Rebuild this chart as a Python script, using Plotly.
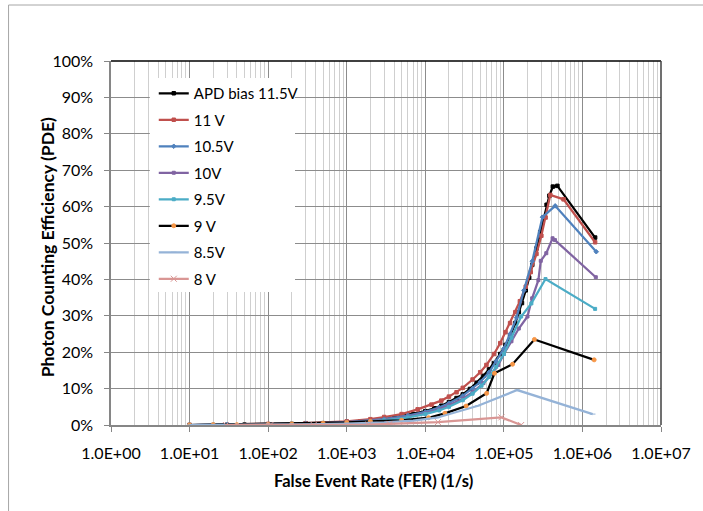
import plotly.graph_objects as go

# False event rate (1/s) and photon counting efficiency (%) per APD bias
fer_115 = [10, 20, 30, 50, 100, 200, 300, 500, 1000, 1500, 2000, 3000, 4000, 5000, 7000,
           10000, 13000, 16000, 20000, 25000, 30000, 37000, 45000, 55000, 65000, 75000,
           90000, 105000, 120000, 140000, 155000, 170000, 190000, 210000, 230000, 260000,
           290000, 320000, 350000, 380000, 420000, 480000, 1450000]
pde_115 = [0, 0, 0, 0.1, 0.2, 0.3, 0.4, 0.5, 0.8, 1.0, 1.2, 1.6, 2.0, 2.4, 3.0,
           3.8, 4.6, 5.3, 6.3, 7.4, 8.4, 9.9, 11.6, 13.5, 15.3, 17.0,
           19.5, 22.0, 24.5, 28.0, 31.0, 33.5, 37.0, 40.5, 44.0, 48.5,
           53.0, 57.0, 60.5, 63.0, 65.5, 65.7, 51.5]

fer_110 = [10, 30, 100, 300, 1000, 2000, 3000, 5000, 8000, 12000, 16000, 20000, 25000,
           30000, 40000, 50000, 60000, 75000, 90000, 105000, 120000, 140000, 160000,
           190000, 220000, 260000, 300000, 340000, 390000, 575000, 1450000]
pde_110 = [0, 0.1, 0.3, 0.5, 1.0, 1.6, 2.2, 3.0, 4.3, 5.6, 6.7, 7.8, 9.0,
           10.2, 12.5, 14.5, 16.5, 19.5, 22.5, 25.5, 28.0, 31.0, 34.0,
           38.0, 42.0, 47.0, 52.0, 57.0, 63.2, 62.0, 50.2]

fer_105 = [10, 30, 100, 300, 1000, 3000, 6000, 10000, 15000, 20000, 30000, 40000, 50000,
           65000, 80000, 100000, 120000, 145000, 180000, 230000, 310000, 450000, 1500000]
pde_105 = [0, 0.1, 0.2, 0.4, 0.8, 1.6, 2.6, 3.6, 4.8, 6.0, 8.0, 10.0, 11.8,
           14.5, 17.5, 21.0, 25.0, 29.5, 37.0, 45.0, 57.1, 60.2, 47.6]

fer_100 = [10, 30, 100, 300, 1000, 3000, 6000, 10000, 15000, 20000, 30000, 40000, 55000,
           70000, 85000, 100000, 125000, 155000, 200000, 229000, 275000, 295000, 347000,
           417000, 447000, 1480000]
pde_100 = [0, 0.1, 0.2, 0.3, 0.7, 1.4, 2.3, 3.2, 4.3, 5.4, 7.2, 9.0, 11.5,
           14.0, 16.5, 19.5, 23.0, 26.5, 29.8, 34.8, 39.8, 45.1, 47.2,
           51.3, 50.8, 40.6]

fer_95 = [10, 30, 100, 300, 1000, 3000, 6000, 10000, 15000, 20000, 30000, 40000, 52000,
          65000, 80000, 100000, 125000, 166000, 224000, 339000, 1450000]
pde_95 = [0, 0.1, 0.2, 0.3, 0.6, 1.3, 2.1, 3.0, 4.0, 5.0, 6.8, 8.6, 10.8,
          13.2, 16.0, 19.5, 24.0, 29.8, 33.4, 40.1, 31.9]

fer_90 = [10, 20, 40, 100, 200, 500, 1000, 2000, 5000, 11000, 17800, 33100, 60300,
          75900, 129000, 245000, 1410000]
pde_90 = [0, 0.1, 0.1, 0.2, 0.3, 0.5, 0.7, 1.0, 1.3, 2.0, 3.2, 5.2, 8.7,
          14.2, 16.7, 23.5, 17.9]

fer_85 = [10, 30, 100, 300, 1000, 3000, 7000, 14000, 47000, 148000, 1350000]
pde_85 = [0, 0, 0.1, 0.2, 0.4, 0.7, 1.2, 2.0, 5.3, 9.6, 3.0]

fer_80 = [29, 107, 380, 1900, 3500, 14500, 93000, 166000]
pde_80 = [0, 0, 0, 0.1, 0.3, 0.8, 2.1, 0]

series_names = ["APD bias 11.5V", "11 V", "10.5V", "10V", "9.5V", "9 V", "8.5V", "8 V"]
x_tick_vals = [1, 10, 100, 1000, 10000, 100000, 1000000, 10000000]
x_tick_text = ["1.0E+00", "1.0E+01", "1.0E+02", "1.0E+03", "1.0E+04", "1.0E+05", "1.0E+06", "1.0E+07"]
y_tick_vals = [0, 10, 20, 30, 40, 50, 60, 70, 80, 90, 100]
y_tick_text = ["0%", "10%", "20%", "30%", "40%", "50%", "60%", "70%", "80%", "90%", "100%"]
x_title = "False Event Rate (FER) (1/s)"
y_title = "Photon Counting Efficiency (PDE)"

styles = [
    dict(line="#000000", marker="#000000", symbol="square", size=3.5),
    dict(line="#C0504D", marker="#C0504D", symbol="square", size=3.5),
    dict(line="#4F81BD", marker="#4F81BD", symbol="diamond", size=3.5),
    dict(line="#8064A2", marker="#8064A2", symbol="square", size=3),
    dict(line="#4BACC6", marker="#4BACC6", symbol="square", size=3),
    dict(line="#000000", marker="#F79646", symbol="circle", size=4),
    dict(line="#95B3D7", marker="#95B3D7", symbol="line-ew", size=4),
    dict(line="#D99694", marker="#D99694", symbol="x-thin", size=6),
]

data = [(fer_115, pde_115), (fer_110, pde_110), (fer_105, pde_105), (fer_100, pde_100),
        (fer_95, pde_95), (fer_90, pde_90), (fer_85, pde_85), (fer_80, pde_80)]

FONT = "Lato, 'Open Sans', sans-serif"

fig = go.Figure()
for i, ((xs, ys), name, st) in enumerate(zip(data, series_names, styles)):
    fig.add_trace(go.Scatter(
        x=xs, y=ys, name=name, mode="lines+markers",
        legendgroup=f"g{i}",
        line=dict(color=st["line"], width=2.25),
        marker=dict(color=st["marker"], symbol=st["symbol"], size=st["size"],
                    line=dict(color=st["marker"], width=1)),
    ))

# plot-area geometry in paper units
L, R, T, B = 111, 39, 61, 86
W = 703 - L - R
H = 511 - T - B


def px_x(px):
    return (px - L) / W


def px_y(py):
    return (511 - B - py) / H


shapes = [
    # outer chart frame
    dict(type="rect", xref="paper", yref="paper",
         x0=px_x(8), x1=px_x(720), y0=px_y(530), y1=px_y(5),
         line=dict(color="#A6A6A6", width=1), fillcolor="rgba(0,0,0,0)", layer="below"),
    # legend background
    dict(type="rect", xref="paper", yref="paper",
         x0=px_x(150), x1=px_x(296), y0=px_y(292), y1=px_y(78),
         line=dict(width=0), fillcolor="white", layer="above"),
    # top and right edges of the plot area
    dict(type="line", xref="paper", yref="paper", x0=0, x1=1, y0=1, y1=1,
         line=dict(color="#000000", width=1.5), layer="above"),
    dict(type="line", xref="paper", yref="paper", x0=1, x1=1, y0=0, y1=1,
         line=dict(color="#404040", width=1.5), layer="above"),
]

annotations = [
    dict(text=f"<b>{x_title}</b>", xref="paper", yref="paper",
         x=px_x(375), y=px_y(481), xanchor="center", yanchor="middle",
         showarrow=False, font=dict(size=16.5)),
    dict(text=f"<b>{y_title}</b>", xref="paper", yref="paper",
         x=px_x(47), y=px_y(247), xanchor="center", yanchor="middle",
         textangle=-90, showarrow=False, font=dict(size=17.5)),
]

fig.update_layout(
    width=703, height=511,
    margin=dict(l=L, r=R, t=T, b=B),
    paper_bgcolor="white", plot_bgcolor="white",
    font=dict(family=FONT, size=16, color="#000000"),
    shapes=shapes,
    annotations=annotations,
    showlegend=True,
    legend=dict(
        x=px_x(154), y=px_y(77), xanchor="left", yanchor="top",
        bgcolor="rgba(0,0,0,0)", borderwidth=0,
        font=dict(family=FONT, size=15, color="#000000"),
        tracegroupgap=4, itemwidth=30,
    ),
    xaxis=dict(
        type="log", range=[0, 7],
        tickvals=x_tick_vals, ticktext=x_tick_text,
        ticks="outside", ticklen=5, tickcolor="#868686", tickwidth=1,
        showline=True, linecolor="#868686", linewidth=1.5,
        showgrid=True, gridcolor="#8C8C8C", gridwidth=1.2,
        minor=dict(dtick="D1", showgrid=True, gridcolor="#CFCFCF", gridwidth=1.2, ticks=""),
        ticklabelstandoff=8,
        zeroline=False,
    ),
    yaxis=dict(
        range=[0, 100],
        tickvals=y_tick_vals, ticktext=y_tick_text,
        ticks="outside", ticklen=5, tickcolor="#868686", tickwidth=1,
        showline=True, linecolor="#868686", linewidth=1.5,
        showgrid=True, gridcolor="#8C8C8C", gridwidth=1.2,
        ticklabelstandoff=8,
        zeroline=False,
    ),
)

fig.write_html("out.html")
